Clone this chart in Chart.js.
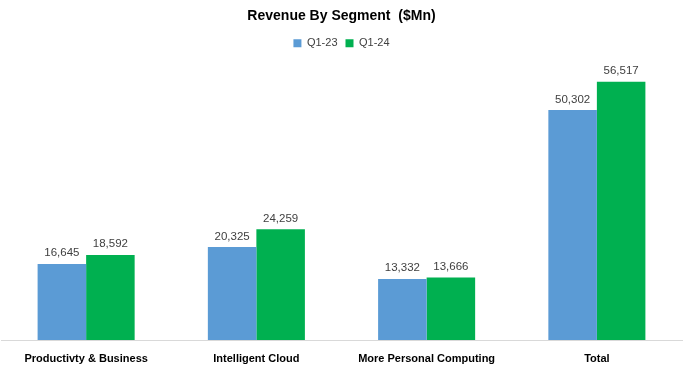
<!DOCTYPE html>
<html>
<head>
<meta charset="utf-8">
<script src="https://cdn.jsdelivr.net/npm/chart.js@4"></script>
<style>
  html, body { margin: 0; padding: 0; background: #fff; }
  #wrap { width: 685px; height: 373px; }
</style>
</head>
<body>
<div id="wrap"><canvas id="myChart"></canvas></div>
<script>
// Dati del grafico
const segments = ['Productivty & Business', 'Intelligent Cloud', 'More Personal Computing', 'Total'];
const q123 = [16645, 20325, 13332, 50302];
const q124 = [18592, 24259, 13666, 56517];

const ctx = document.getElementById('myChart');

// Etichette con i valori sopra le barre
const valueLabels = {
    id: 'valueLabels',
    afterDatasetsDraw(chart) {
        const c = chart.ctx;
        c.save();
        c.font = '11.5px "Liberation Sans", Arial, sans-serif';
        c.fillStyle = '#404040';
        c.textAlign = 'center';
        c.textBaseline = 'bottom';
        chart.data.datasets.forEach((ds, i) => {
            chart.getDatasetMeta(i).data.forEach((bar, j) => {
                c.fillText(ds.data[j].toLocaleString('en-US'), bar.x, bar.y - 5);
            });
        });
        c.restore();
    }
};

// Spazio extra sotto la legenda
const legendSpace = {
    id: 'legendSpace',
    beforeInit(chart) {
        const origFit = chart.legend.fit;
        chart.legend.fit = function () {
            origFit.call(this);
            this.height += 7;
        };
    }
};

new Chart(ctx, {
    type: 'bar',
    data: {
        labels: segments,
        datasets: [{
            label: 'Q1-23',
            data: q123,
            backgroundColor: '#5B9BD5',
            barPercentage: 1,
            categoryPercentage: 0.57
        }, {
            label: 'Q1-24',
            data: q124,
            backgroundColor: '#00B050',
            barPercentage: 1,
            categoryPercentage: 0.57
        }]
    },
    options: {
        responsive: true,
        maintainAspectRatio: false,
        animation: false,
        layout: {
            padding: { left: 1, right: 3, top: 4, bottom: 0 }
        },
        scales: {
            x: {
                grid: { display: false, drawTicks: false },
                border: { color: '#d9d9d9', width: 1 },
                ticks: {
                    color: '#000',
                    padding: 12,
                    font: { family: '"Liberation Sans", Arial, sans-serif', size: 11, weight: 'bold' }
                },
                afterFit(scale) {
                    scale.height = 33;
                }
            },
            y: {
                display: false,
                min: 0,
                max: 60000
            }
        },
        plugins: {
            title: {
                display: true,
                text: 'Revenue By Segment  ($Mn)',
                color: '#000',
                font: { family: '"Liberation Sans", Arial, sans-serif', size: 14, weight: 'bold' },
                padding: { top: 4, bottom: 5 }
            },
            legend: {
                display: true,
                labels: {
                    boxWidth: 8,
                    boxHeight: 8,
                    color: '#404040',
                    padding: 8,
                    font: { family: '"Liberation Sans", Arial, sans-serif', size: 11 }
                }
            },
            tooltip: { enabled: false }
        }
    },
    plugins: [valueLabels, legendSpace]
});
</script>
</body>
</html>
